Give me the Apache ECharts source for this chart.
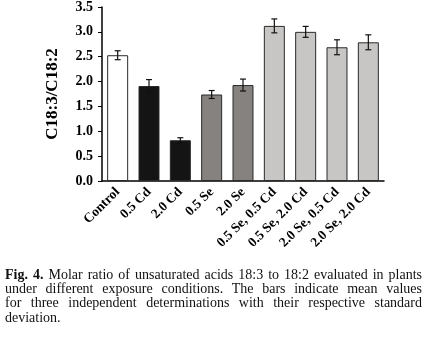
<!DOCTYPE html>
<html><head><meta charset="utf-8">
<script src="https://cdn.jsdelivr.net/npm/echarts@6/dist/echarts.min.js"></script>
<style>
html,body{margin:0;padding:0;background:#fff;}
#c{position:absolute;left:0;top:0;width:429px;height:338px;}
#cap{position:absolute;left:5px;top:268px;width:417px;font-family:"Liberation Serif","Times New Roman",serif;font-size:14px;line-height:14.2px;color:#111;}
#cap div{text-align:justify;text-align-last:justify;white-space:nowrap;}
#cap div.last{text-align-last:left;}
</style></head>
<body>
<div id="c"></div>
<div id="cap"><div><b>Fig. 4.</b> Molar ratio of unsaturated acids 18:3 to 18:2 evaluated in plants</div><div>under different exposure conditions. The bars indicate mean values</div><div>for three independent determinations with their respective standard</div><div class="last">deviation.</div></div>
<script>
var categories = ["Control","0.5 Cd","2.0 Cd","0.5 Se","2.0 Se","0.5 Se, 0.5 Cd","0.5 Se, 2.0 Cd","2.0 Se, 0.5 Cd","2.0 Se, 2.0 Cd"];
var means = [2.53, 1.91, 0.82, 1.74, 1.93, 3.12, 3.00, 2.69, 2.79];
var sds = [0.09, 0.13, 0.05, 0.08, 0.12, 0.14, 0.11, 0.15, 0.15];
var barColors = ["#ffffff","#141414","#141414","#86827f","#86827f","#c8c6c4","#c8c6c4","#c8c6c4","#c8c6c4"];
var yTicks = [0, 3.5, 0.5];

var chart = echarts.init(document.getElementById('c'));
var serif = '"Liberation Serif","Times New Roman",serif';
var errData = means.map(function(m,i){return [i, m - sds[i], m + sds[i]];});
chart.setOption({
  animation:false,
  grid:{left:102,right:45,top:7,bottom:157},
  xAxis:{type:'category',data:categories,
    axisLine:{lineStyle:{color:'#000',width:1.5}},
    axisTick:{show:false},
    axisLabel:{rotate:45,interval:0,margin:9,color:'#000',fontFamily:serif,fontWeight:'bold',fontSize:13.5}},
  yAxis:{type:'value',min:yTicks[0],max:yTicks[1],interval:yTicks[2],
    name:'C18:3/C18:2',nameLocation:'middle',nameGap:41,
    nameTextStyle:{fontFamily:serif,fontWeight:'bold',fontSize:17,color:'#000'},
    axisLine:{show:true,lineStyle:{color:'#000',width:1.5}},
    axisTick:{show:true,length:4,lineStyle:{color:'#000'}},
    splitLine:{show:false},
    axisLabel:{formatter:function(v){return v.toFixed(1);},margin:9,color:'#000',fontFamily:serif,fontWeight:'bold',fontSize:14}},
  series:[
    {type:'bar',barWidth:'67%',
     data:means.map(function(v,i){return {value:v,itemStyle:{color:barColors[i],borderColor:'#2a2a2a',borderWidth:1}};})},
    {type:'custom',data:errData,z:5,
     renderItem:function(params,api){
       var x=api.value(0);
       var lo=api.coord([x,api.value(1)]);
       var hi=api.coord([x,api.value(2)]);
       var w=3;
       var st={stroke:'#111',lineWidth:1.2};
       return {type:'group',children:[
         {type:'line',shape:{x1:lo[0],y1:lo[1],x2:hi[0],y2:hi[1]},style:st},
         {type:'line',shape:{x1:lo[0]-w,y1:lo[1],x2:lo[0]+w,y2:lo[1]},style:st},
         {type:'line',shape:{x1:hi[0]-w,y1:hi[1],x2:hi[0]+w,y2:hi[1]},style:st}
       ]};
     }}
  ]
});
</script>
</body></html>
